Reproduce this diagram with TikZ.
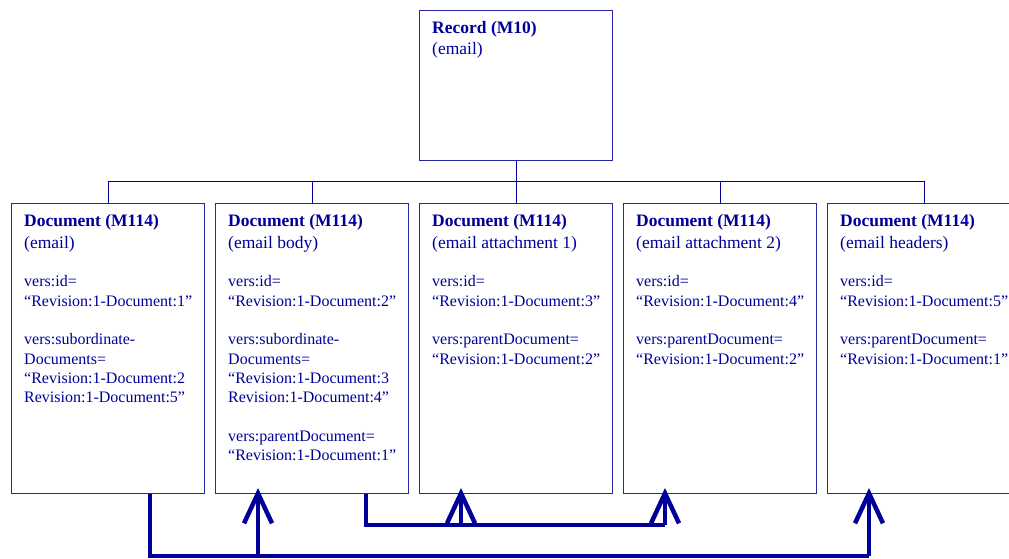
\documentclass[tikz,border=0pt]{standalone}
\usepackage{fontspec}
\setmainfont{Liberation Serif}
\usetikzlibrary{arrows.meta}
\definecolor{navy}{HTML}{000099}
\definecolor{boxline}{HTML}{2626A6}
\newcommand\hdsize{\fontsize{17.5}{19.3}\selectfont}
\tikzset{
  box/.style={draw=boxline, line width=1.3pt, rectangle, minimum width=193pt, inner sep=0pt, anchor=north west},
  docbox/.style={box, minimum height=290pt},
  txt/.style={text=navy, align=left, anchor=north west, inner sep=0pt, font=\fontsize{16}{19.3}\selectfont},
  tree/.style={draw=navy, line width=1pt},
  link/.style={draw=navy, line width=4.5pt},
  up/.style={link, -{Straight Barb[length=30pt, width=28pt, line width=4.5pt]}},
}
\begin{document}
\begin{tikzpicture}[x=1pt,y=-1pt]
\useasboundingbox (0,0) rectangle (1009,559);
\fill[white] (0,0) rectangle (1009,559);
% record
\node[box, minimum height=150pt] (rec) at (419,10) {};
\node[txt] (trec) at (432,19.5) {{\hdsize\strut\textbf{Record (M10)}}\\[2pt]{\hdsize(email)}};
% documents
\node[docbox] (b1) at (11,203) {};
\node[docbox] (b2) at (215,203) {};
\node[docbox] (b3) at (419,203) {};
\node[docbox] (b4) at (623,203) {};
\node[docbox] (b5) at (827,203) {};
\node[txt] (t1) at (24,213.2) {{\hdsize\strut\textbf{Document (M114)}}\\[2pt]{\hdsize(email)}\\[19.3pt]vers:id=\\“Revision:1-Document:1”\\[19.3pt]vers:subordinate-\\Documents=\\“Revision:1-Document:2\\Revision:1-Document:5”};
\node[txt] (t2) at (228,213.2) {{\hdsize\strut\textbf{Document (M114)}}\\[2pt]{\hdsize(email body)}\\[19.3pt]vers:id=\\“Revision:1-Document:2”\\[19.3pt]vers:subordinate-\\Documents=\\“Revision:1-Document:3\\Revision:1-Document:4”\\[19.3pt]vers:parentDocument=\\“Revision:1-Document:1”};
\node[txt] (t3) at (432,213.2) {{\hdsize\strut\textbf{Document (M114)}}\\[2pt]{\hdsize(email attachment 1)}\\[19.3pt]vers:id=\\“Revision:1-Document:3”\\[19.3pt]vers:parentDocument=\\“Revision:1-Document:2”};
\node[txt] (t4) at (636,213.2) {{\hdsize\strut\textbf{Document (M114)}}\\[2pt]{\hdsize(email attachment 2)}\\[19.3pt]vers:id=\\“Revision:1-Document:4”\\[19.3pt]vers:parentDocument=\\“Revision:1-Document:2”};
\node[txt] (t5) at (840,213.2) {{\hdsize\strut\textbf{Document (M114)}}\\[2pt]{\hdsize(email headers)}\\[19.3pt]vers:id=\\“Revision:1-Document:5”\\[19.3pt]vers:parentDocument=\\“Revision:1-Document:1”};
% tree
\coordinate (bus) at (0,181);
\draw[tree] (rec.south) -- (rec.south |- bus);
\draw[tree] (b1.north |- bus) -- (b5.north |- bus);
\foreach \b in {b1,b2,b3,b4,b5} \draw[tree] (\b.north |- bus) -- (\b.north);
% links
\coordinate (lowA) at (0,556);
\coordinate (lowB) at (0,525);
\coordinate (tipy) at (0,488);
\coordinate (a1) at (150,0);
\coordinate (a2) at (258,0);
\coordinate (a5) at (869,0);
\coordinate (c2) at (366,0);
\coordinate (c3) at (461,0);
\coordinate (c4) at (665,0);
\draw[link] (a1 |- b1.south) -- (a1 |- lowA) -- (a5 |- lowA);
\draw[up] (a5 |- lowA) -- (a5 |- tipy);
\draw[up] (a2 |- lowA) -- (a2 |- tipy);
\draw[link] (c2 |- b2.south) -- (c2 |- lowB) -- (c4 |- lowB);
\draw[up] (c4 |- lowB) -- (c4 |- tipy);
\draw[up] (c3 |- lowB) -- (c3 |- tipy);
\end{tikzpicture}
\end{document}
